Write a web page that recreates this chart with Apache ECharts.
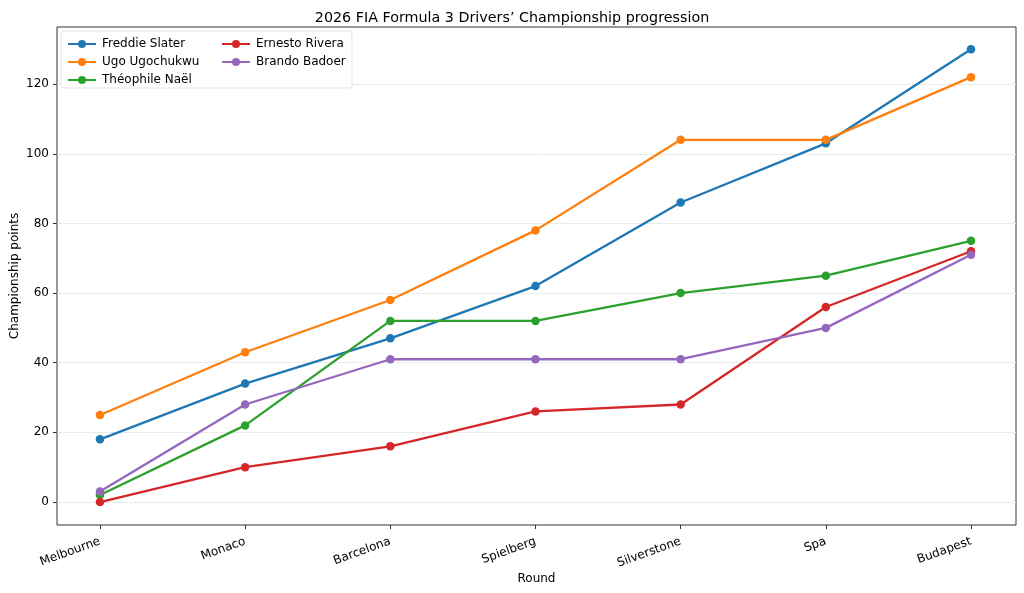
<html>
<head>
<meta charset="UTF-8">
<script src="https://cdn.jsdelivr.net/npm/echarts@6/dist/echarts.min.js"></script>
<style>
body { margin: 0; background: #fff; }
#chart { width: 1024px; height: 593px; }
</style>
</head>
<body>
<div id="chart"></div>
<script>
// rounds (x axis categories)
var rounds = ["Melbourne", "Monaco", "Barcelona", "Spielberg", "Silverstone", "Spa", "Budapest"];
var drivers = ["Freddie Slater", "Ugo Ugochukwu", "Théophile Naël", "Ernesto Rivera", "Brando Badoer"];
var slater = [18, 34, 47, 62, 86, 103, 130];
var ugochukwu = [25, 43, 58, 78, 104, 104, 122];
var nael = [2, 22, 52, 52, 60, 65, 75];
var rivera = [0, 10, 16, 26, 28, 56, 72];
var badoer = [3, 28, 41, 41, 41, 50, 71];
var yTicks = [0, 20, 40, 60, 80, 100, 120];
var colors = ["#1f77b4", "#ff7f0e", "#2ca02c", "#d62728", "#9467bd"];

var allValues = [slater, ugochukwu, nael, rivera, badoer];
var xTicks = rounds.map(function(r, i){ return i; });

function pairs(vals){
  return vals.map(function(v, i){ return [i, v]; });
}

var series = drivers.map(function(name, k){
  return {
    name: name,
    type: "line",
    data: pairs(allValues[k]),
    symbol: "circle",
    symbolSize: 8.5,
    color: colors[k],
    lineStyle: { width: 2.3 },
    itemStyle: { color: colors[k] },
    z: 3 + k
  };
});

var font = "DejaVu Sans";
var legendText = { fontFamily: font, fontSize: 12, color: "#000", padding: [0, 0, 0, 1] };
var chart = echarts.init(document.getElementById("chart"));
chart.setOption({
  animation: false,
  textStyle: { fontFamily: font },
  title: {
    text: "2026 FIA Formula 3 Drivers\u2019 Championship progression",
    left: "center",
    top: 6,
    textStyle: { fontFamily: font, fontSize: 14.3, fontWeight: "normal", color: "#000" }
  },
  grid: {
    left: 57, right: 8, top: 27, bottom: 68,
    outerBoundsMode: "none",
    containLabel: false,
    show: true, borderColor: "#333", borderWidth: 1
  },
  graphic: [{
    type: "rect",
    shape: { x: 61, y: 31, width: 291, height: 57, r: 3 },
    style: { fill: "rgba(255,255,255,0.85)", stroke: "#e4e4e4", lineWidth: 1 },
    z: 20
  }],
  legend: [
    {
      data: drivers.slice(0, 3),
      orient: "vertical",
      left: 67, top: 38, padding: 0,
      itemWidth: 28, itemHeight: 10, itemGap: 6,
      textStyle: legendText,
      z: 30
    },
    {
      data: drivers.slice(3),
      orient: "vertical",
      left: 221, top: 38, padding: 0,
      itemWidth: 28, itemHeight: 10, itemGap: 6,
      textStyle: legendText,
      z: 30
    }
  ],
  xAxis: {
    type: "value",
    min: -0.296,
    max: 6.31,
    name: "Round",
    nameLocation: "middle",
    nameGap: 48,
    nameMoveOverlap: false,
    nameTextStyle: { fontFamily: font, fontSize: 12, color: "#000" },
    axisLine: { show: false, onZero: false },
    axisTick: { show: true, customValues: xTicks, length: 4, lineStyle: { color: "#333" } },
    axisLabel: {
      customValues: xTicks,
      rotate: 20,
      margin: 16,
      fontFamily: font, fontSize: 12, color: "#000",
      formatter: function(v){ return rounds[Math.round(v)]; }
    },
    splitLine: { show: false }
  },
  yAxis: {
    type: "value",
    min: -6.6,
    max: 136.4,
    name: "Championship points",
    nameLocation: "middle",
    nameGap: 36,
    nameMoveOverlap: false,
    nameTextStyle: { fontFamily: font, fontSize: 12, color: "#000" },
    axisLine: { show: false, onZero: false },
    axisTick: { show: true, customValues: yTicks, length: 4, lineStyle: { color: "#333" } },
    axisLabel: { customValues: yTicks, margin: 8, fontFamily: font, fontSize: 12, color: "#000" },
    splitLine: { show: true, lineStyle: { color: "#ebebeb", width: 1 } }
  },
  series: series
});
</script>
</body>
</html>
